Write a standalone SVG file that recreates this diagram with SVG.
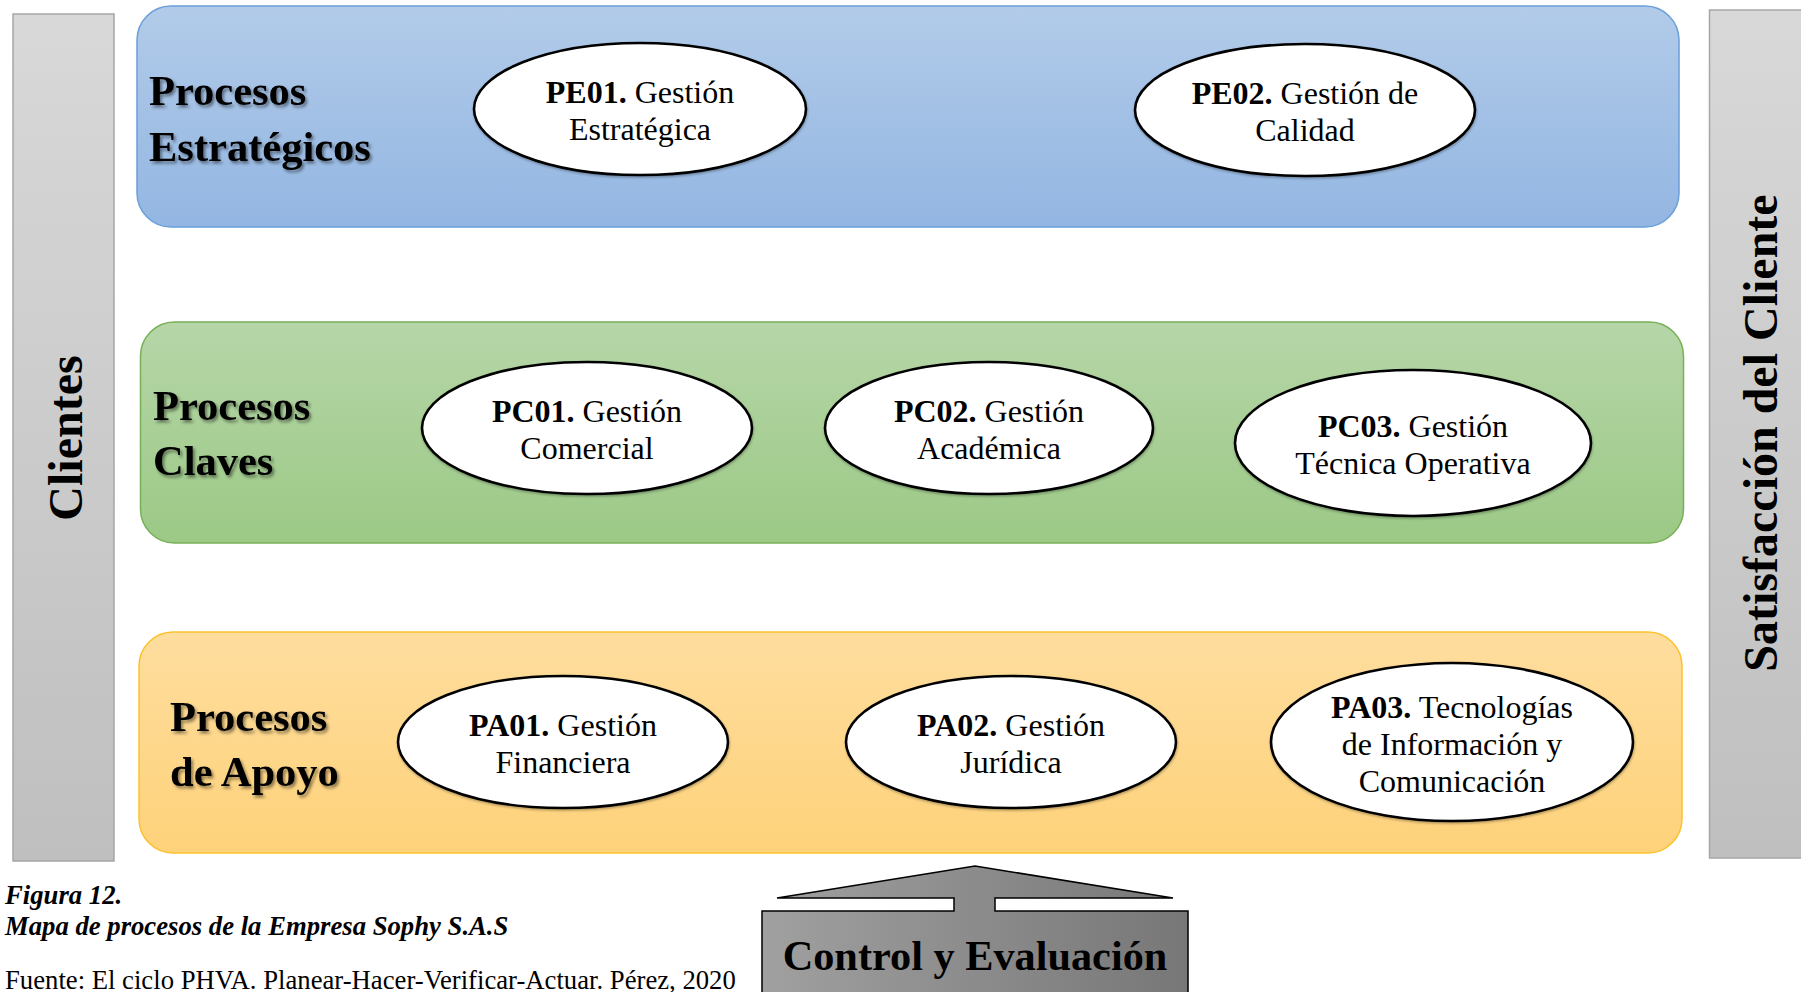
<svg xmlns="http://www.w3.org/2000/svg" width="1801" height="992" viewBox="0 0 1801 992">
<defs>
<linearGradient id="gBlue" x1="0" y1="0" x2="0" y2="1"><stop offset="0" stop-color="#b2cbe9"/><stop offset="1" stop-color="#93b6e2"/></linearGradient>
<linearGradient id="gGreen" x1="0" y1="0" x2="0" y2="1"><stop offset="0" stop-color="#b6d6a8"/><stop offset="1" stop-color="#9cc986"/></linearGradient>
<linearGradient id="gOrange" x1="0" y1="0" x2="0" y2="1"><stop offset="0" stop-color="#fedd9e"/><stop offset="1" stop-color="#fed27a"/></linearGradient>
<linearGradient id="gGray" x1="0" y1="0" x2="0" y2="1"><stop offset="0" stop-color="#d8d8d8"/><stop offset="1" stop-color="#bfbfbf"/></linearGradient>
<linearGradient id="gCtrl" x1="0" y1="0" x2="1" y2="0"><stop offset="0" stop-color="#a0a0a0"/><stop offset="1" stop-color="#777777"/></linearGradient>
<filter id="sh" x="-10%" y="-20%" width="130%" height="150%"><feDropShadow dx="2" dy="2.5" stdDeviation="1.6" flood-color="#000" flood-opacity="0.45"/></filter>
<filter id="esh" x="-10%" y="-10%" width="120%" height="130%"><feDropShadow dx="0.5" dy="1.5" stdDeviation="1" flood-color="#000" flood-opacity="0.3"/></filter>
</defs>
<style>
.t{font-family:"Liberation Serif","Times New Roman",serif;fill:#000}
.lab{font-size:42.5px;font-weight:bold}
.el{font-size:32px}
.b{font-weight:bold}
.ell{fill:#fff;stroke:#000;stroke-width:2.6}
.cap{font-size:26.7px}
.bar{fill:url(#gGray);stroke:#a6a6a6;stroke-width:1.5}
</style>
<rect width="1801" height="992" fill="#fff"/>

<g id="clientes">
<rect class="bar" x="13" y="14" width="101" height="847"/>
<text class="t b" font-size="48" text-anchor="middle" transform="translate(82,438) rotate(-90)">Clientes</text>
</g>

<g id="satisfaccion">
<rect class="bar" x="1709.5" y="10" width="95" height="848"/>
<text class="t b" font-size="48" text-anchor="middle" transform="translate(1777,433) rotate(-90)">Satisfacción del Cliente</text>
</g>

<g id="estrategicos">
<rect x="137" y="6" width="1542" height="221" rx="34" fill="url(#gBlue)" stroke="#6a9fd9" stroke-width="1.5"/>
<text class="t lab" filter="url(#sh)"><tspan x="149" y="105">Procesos</tspan><tspan x="149" y="161">Estratégicos</tspan></text>
</g>
<g id="PE01">
<ellipse class="ell" filter="url(#esh)" cx="640" cy="109" rx="166" ry="66"/>
<text class="t el" text-anchor="middle"><tspan x="640" y="102.5"><tspan class="b">PE01.</tspan> Gestión</tspan><tspan x="640" y="140">Estratégica</tspan></text>
</g>
<g id="PE02">
<ellipse class="ell" filter="url(#esh)" cx="1305" cy="110" rx="170" ry="66"/>
<text class="t el" text-anchor="middle"><tspan x="1305" y="103.5"><tspan class="b">PE02.</tspan> Gestión de</tspan><tspan x="1305" y="141">Calidad</tspan></text>
</g>

<g id="claves">
<rect x="140.5" y="322" width="1543" height="221" rx="34" fill="url(#gGreen)" stroke="#78b057" stroke-width="1.5"/>
<text class="t lab" filter="url(#sh)"><tspan x="153" y="420">Procesos</tspan><tspan x="153" y="475">Claves</tspan></text>
</g>
<g id="PC01">
<ellipse class="ell" filter="url(#esh)" cx="587" cy="428" rx="165" ry="66"/>
<text class="t el" text-anchor="middle"><tspan x="587" y="421.5"><tspan class="b">PC01.</tspan> Gestión</tspan><tspan x="587" y="459">Comercial</tspan></text>
</g>
<g id="PC02">
<ellipse class="ell" filter="url(#esh)" cx="989" cy="428" rx="164" ry="66"/>
<text class="t el" text-anchor="middle"><tspan x="989" y="421.5"><tspan class="b">PC02.</tspan> Gestión</tspan><tspan x="989" y="459">Académica</tspan></text>
</g>
<g id="PC03">
<ellipse class="ell" filter="url(#esh)" cx="1413" cy="443" rx="178" ry="73"/>
<text class="t el" text-anchor="middle"><tspan x="1413" y="436.5"><tspan class="b">PC03.</tspan> Gestión</tspan><tspan x="1413" y="474">Técnica Operativa</tspan></text>
</g>

<g id="apoyo">
<rect x="139" y="632" width="1543" height="221" rx="34" fill="url(#gOrange)" stroke="#fbc22c" stroke-width="1.5"/>
<text class="t lab" filter="url(#sh)"><tspan x="170" y="731">Procesos</tspan><tspan x="170" y="786">de Apoyo</tspan></text>
</g>
<g id="PA01">
<ellipse class="ell" filter="url(#esh)" cx="563" cy="742" rx="165" ry="66"/>
<text class="t el" text-anchor="middle"><tspan x="563" y="735.5"><tspan class="b">PA01.</tspan> Gestión</tspan><tspan x="563" y="773">Financiera</tspan></text>
</g>
<g id="PA02">
<ellipse class="ell" filter="url(#esh)" cx="1011" cy="742" rx="165" ry="66"/>
<text class="t el" text-anchor="middle"><tspan x="1011" y="735.5"><tspan class="b">PA02.</tspan> Gestión</tspan><tspan x="1011" y="773">Jurídica</tspan></text>
</g>
<g id="PA03">
<ellipse class="ell" filter="url(#esh)" cx="1452" cy="742" rx="181" ry="79"/>
<text class="t el" text-anchor="middle"><tspan x="1452" y="718"><tspan class="b">PA03.</tspan> Tecnologías</tspan><tspan x="1452" y="755">de Información y</tspan><tspan x="1452" y="792">Comunicación</tspan></text>
</g>

<g id="control">
<path d="M777,898 L975,866 L1173,898 L995,898 L995,911 L1188,911 L1188,1000 L762,1000 L762,911 L954,911 L954,898 Z" fill="url(#gCtrl)" stroke="#000" stroke-width="1.5" stroke-linejoin="miter"/>
<text class="t b" font-size="42.3" text-anchor="middle" x="975" y="970">Control y Evaluación</text>
</g>

<g id="connectors"></g>

<g id="caption">
<text class="t cap b" font-style="italic" x="5" y="904">Figura 12.</text>
<text class="t cap b" font-style="italic" x="5" y="935">Mapa de procesos de la Empresa Sophy S.A.S</text>
<text class="t cap" x="5" y="989">Fuente: El ciclo PHVA. Planear-Hacer-Verificar-Actuar. Pérez, 2020</text>
</g>
</svg>
